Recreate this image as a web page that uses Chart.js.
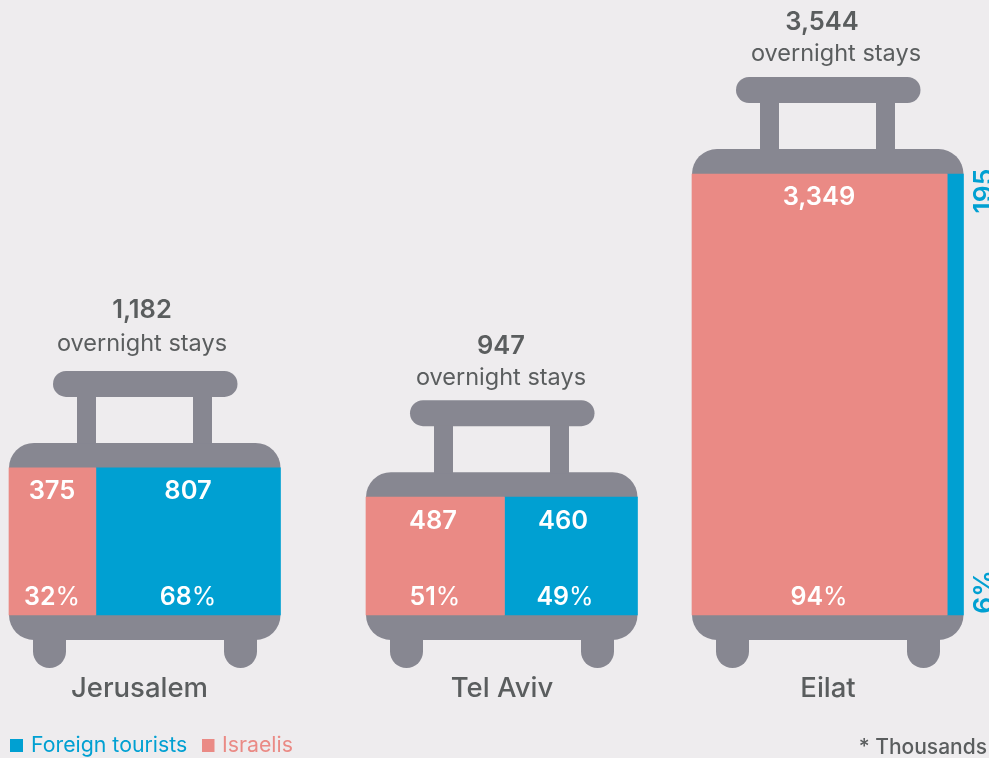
<!DOCTYPE html>
<html>
<head>
<meta charset="utf-8">
<title>Overnight stays</title>
<script src="https://cdn.jsdelivr.net/npm/chart.js@4"></script>
<style>
  html, body { margin: 0; padding: 0; background: #eeecee; overflow: hidden; }
  #wrap { position: relative; width: 989px; height: 758px; }
</style>
</head>
<body>
<div id="wrap"><canvas id="chart" width="989" height="758"></canvas></div>
<script>
const cities = ['Jerusalem', 'Tel Aviv', 'Eilat'];
const totals = [1182, 947, 3544];
const israelis = [375, 487, 3349];
const foreign = [807, 460, 195];
const israeliPct = [32, 51, 94];
const foreignPct = [68, 49, 6];

const PINK = '#ea8a85';
const BLUE = '#00a0d2';
const GREY = '#878791';
const TEXT = '#5a5d5e';
const FONT = 'Inter, sans-serif';

// left edge of each suitcase on the x axis, and its width
const caseLeft = [9, 366, 692];
const caseWidth = 271.5;

function barDataset(label, color, cityIndex, startPct, pct, value) {
  const width = caseWidth * pct / 100;
  return {
    label: label + ' - ' + cities[cityIndex],
    data: [{ x: caseLeft[cityIndex] + caseWidth * startPct / 100 + width / 2, y: totals[cityIndex] }],
    value,
    backgroundColor: color,
    barThickness: width,
    stack: 'all'
  };
}

const datasets = [];
cities.forEach((c, i) => {
  datasets.push(barDataset('Israelis', PINK, i, 0, israeliPct[i], israelis[i]));
  datasets.push(barDataset('Foreign tourists', BLUE, i, israeliPct[i], foreignPct[i], foreign[i]));
});

function roundBox(ctx, x, y, w, h, radii) {
  ctx.beginPath();
  ctx.roundRect(x, y, w, h, radii);
  ctx.fill();
}

function put(ctx, str, x, y, font, color, align) {
  ctx.font = font;
  ctx.fillStyle = color;
  ctx.textAlign = align || 'center';
  ctx.textBaseline = 'middle';
  ctx.fillText(str, x, y);
}

// number in semi-bold, % sign lighter, like the reference
function putPct(ctx, pct, x, y, color) {
  const bold = '600 25px ' + FONT;
  const thin = '400 25px ' + FONT;
  const num = String(pct);
  ctx.font = bold;
  const w1 = ctx.measureText(num).width;
  ctx.font = thin;
  const w2 = ctx.measureText('%').width;
  const start = x - (w1 + w2) / 2;
  put(ctx, num, start, y, bold, color, 'left');
  put(ctx, '%', start + w1, y, thin, color, 'left');
}

const suitcasePlugin = {
  id: 'suitcase',
  beforeDatasetsDraw(chart) {
    const { ctx, scales: { x, y } } = chart;
    const base = y.getPixelForValue(0);
    ctx.save();
    ctx.fillStyle = GREY;
    cities.forEach((c, i) => {
      const l = x.getPixelForValue(caseLeft[i]);
      const top = y.getPixelForValue(totals[i]);
      roundBox(ctx, l, top - 25, caseWidth, 25, [25, 25, 0, 0]);
      roundBox(ctx, l, base, caseWidth, 25, [0, 0, 25, 25]);
      // handle
      roundBox(ctx, l + 44, top - 97, 184.5, 26, 13);
      ctx.fillRect(l + 68, top - 72, 19, 48);
      ctx.fillRect(l + 184, top - 72, 19, 48);
      // wheels
      roundBox(ctx, l + 24, base + 20, 33, 33, [0, 0, 16.5, 16.5]);
      roundBox(ctx, l + 215, base + 20, 33, 33, [0, 0, 16.5, 16.5]);
    });
    ctx.restore();
  },
  afterDatasetsDraw(chart) {
    const { ctx, scales: { y } } = chart;
    const base = y.getPixelForValue(0);
    const bold = '600 25.5px ' + FONT;
    const fmt = n => n.toLocaleString('en-US');
    // the reference places its labels by hand, not dead centre
    const headGap = [158, 151, 152];
    const subGap = [124, 119, 120];
    const valueGap = [23, 24, 23];
    const headMid = [142, 501, 822];
    const subMid = [142, 501, 836];
    const nameMid = [139.5, 502, 828];
    const leftValueMid = [52, 433, 819];
    const leftPctMid = [52, 435, 819];
    const rightValueMid = [188, 563];
    const rightPctMid = [188, 565];
    ctx.save();
    cities.forEach((c, i) => {
      const top = y.getPixelForValue(totals[i]);
      put(ctx, fmt(totals[i]), headMid[i], top - headGap[i], bold, TEXT);
      put(ctx, 'overnight stays', subMid[i], top - subGap[i], '400 23.5px ' + FONT, TEXT);
      put(ctx, c, nameMid[i], base + 74, '500 27.5px ' + FONT, TEXT);

      put(ctx, fmt(israelis[i]), leftValueMid[i], top + valueGap[i], bold, '#fff');
      putPct(ctx, israeliPct[i], leftPctMid[i], base - 18, '#fff');
      if (i < 2) {
        put(ctx, fmt(foreign[i]), rightValueMid[i], top + valueGap[i], bold, '#fff');
        putPct(ctx, foreignPct[i], rightPctMid[i], base - 18, '#fff');
      } else {
        // narrow slice: labels turned and running off the right edge
        [[fmt(foreign[i]), top + 17], [foreignPct[i] + '%', base - 23]].forEach(([s, ty]) => {
          ctx.save();
          ctx.translate(985, ty);
          ctx.rotate(-Math.PI / 2);
          put(ctx, s, 0, 0, '600 26.5px ' + FONT, BLUE);
          ctx.restore();
        });
      }
    });

    // legend and note
    ctx.fillStyle = BLUE;
    ctx.fillRect(10, 739, 13, 13);
    put(ctx, 'Foreign tourists', 31, 746, '400 21.3px ' + FONT, BLUE, 'left');
    ctx.fillStyle = PINK;
    ctx.fillRect(202, 739, 12.5, 13);
    put(ctx, 'Israelis', 222, 746, '400 21.3px ' + FONT, PINK, 'left');
    put(ctx, '* Thousands', 987, 748, '500 21px ' + FONT, TEXT, 'right');
    ctx.restore();
  }
};

new Chart(document.getElementById('chart'), {
  type: 'bar',
  data: { datasets },
  plugins: [suitcasePlugin],
  options: {
    responsive: false,
    animation: false,
    layout: { padding: 0 },
    plugins: { legend: { display: false }, tooltip: { enabled: false } },
    scales: {
      x: { type: 'linear', stacked: true, offset: false, min: 0, max: 989, display: false },
      // 441px of height for 3,544, baseline at y=615
      y: { stacked: false, min: -1149.2, max: 4942.3, display: false }
    }
  }
});
</script>
</body>
</html>
